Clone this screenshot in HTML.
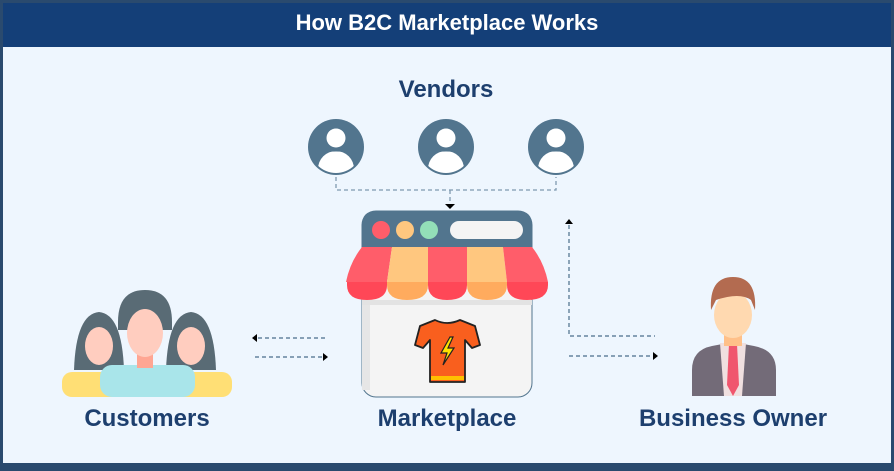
<!DOCTYPE html>
<html><head><style>
html,body{margin:0;padding:0;}
body{width:894px;height:466px;overflow:hidden;background:#2a4a6e;}
</style></head><body>
<svg width="894" height="466" xmlns="http://www.w3.org/2000/svg" font-family="Liberation Sans, sans-serif">
<rect x="0" y="0" width="894" height="466" fill="#2a4a6e"/>
<rect x="3" y="3" width="888" height="44" fill="#143f78"/>
<rect x="3" y="47" width="888" height="416" fill="#eef6fe"/>
<text x="447" y="30" text-anchor="middle" fill="#fff" font-size="22" font-weight="bold">How B2C Marketplace Works</text>
<text x="446" y="97" text-anchor="middle" fill="#1d3f6e" font-size="24" font-weight="bold">Vendors</text>
<text x="147" y="426" text-anchor="middle" fill="#1d3f6e" font-size="24" font-weight="bold">Customers</text>
<text x="447" y="426" text-anchor="middle" fill="#1d3f6e" font-size="24" font-weight="bold">Marketplace</text>
<text x="733" y="426" text-anchor="middle" fill="#1d3f6e" font-size="24" font-weight="bold">Business Owner</text>
<defs>
<clipPath id="c1"><circle cx="0" cy="0" r="26"/></clipPath>
<g id="v"><circle cx="0" cy="0" r="28" fill="#52758e"/><g clip-path="url(#c1)"><circle cx="0" cy="-9" r="9.5" fill="#fff"/><ellipse cx="0" cy="22" rx="18" ry="18" fill="#fff"/><path d="M-20 6 Q0 1 20 6" stroke="#52758e" stroke-width="2" fill="none"/></g></g>
</defs>
<use href="#v" x="336" y="147"/><use href="#v" x="446" y="147"/><use href="#v" x="556" y="147"/>
<g stroke="#7f9ab0" stroke-width="1.3" stroke-dasharray="4,3" fill="none">
<path d="M336 177 V190 H556 V177"/><path d="M450 190 V204"/>
</g>
<path d="M445 204 h10 l-5 5z" fill="#000"/>
<g stroke="#4a6d8a" stroke-width="1.2" stroke-dasharray="4,3" fill="none">
<path d="M325 338 H256"/><path d="M255 357 H323"/>
<path d="M569 225 V336 H655"/><path d="M569 356 H654"/>
</g>
<path d="M252 338 l5 -4 v8z M328 357 l-5 -4 v8z M569 219 l-4 5 h8z M658 356 l-5 -4 v8z" fill="#000"/>
<rect x="362" y="211" width="170" height="186" rx="14" fill="#f4f4f4" stroke="#52758e" stroke-width="1"/>
<rect x="362" y="250" width="8" height="140" fill="#e6e6e6"/>
<path d="M362 248 V225 Q362 211 376 211 H518 Q532 211 532 225 V248z" fill="#52758e"/>
<circle cx="381" cy="230" r="9" fill="#ff5d6a"/><circle cx="405" cy="230" r="9" fill="#ffc77f"/><circle cx="429" cy="230" r="9" fill="#93dfb8"/>
<rect x="450" y="221" width="73" height="18" rx="9" fill="#f4f4f4"/>
<path d="M362 300 H532 V305 H362z" fill="#e3e3e3"/>
<path d="M392 247 L387 282 H346 Q350 262 362 247z" fill="#ff5d6a"/>
<path d="M392 247 H428 V282 H387z" fill="#ffc77f"/>
<path d="M428 247 H467 V282 H428z" fill="#ff5d6a"/>
<path d="M467 247 H503 L507 282 H467z" fill="#ffc77f"/>
<path d="M503 247 H532 Q544 262 548 282 H507z" fill="#ff5d6a"/>
<path d="M347 282 H387 V285 Q387 300 367 300 Q347 300 347 285z" fill="#ff4757"/>
<path d="M387 282 H428 V285 Q428 300 407 300 Q387 300 387 285z" fill="#ffab5e"/>
<path d="M428 282 H467 V285 Q467 300 447 300 Q428 300 428 285z" fill="#ff4757"/>
<path d="M467 282 H507 V285 Q507 300 487 300 Q467 300 467 285z" fill="#ffab5e"/>
<path d="M507 282 H548 V285 Q548 300 527 300 Q507 300 507 285z" fill="#ff4757"/>
<path d="M435 320 L420 326 L415 345 L423 348 L430 340 L430 382 L465 382 L465 340 L472 348 L480 345 L475 326 L460 320 Q447 326 435 320z" fill="#f95f1e" stroke="#222" stroke-width="1.8" stroke-linejoin="round"/>
<rect x="431" y="376" width="33" height="4" fill="#ffc000"/>
<path d="M450 337 L441 353 L447 353 L443 365 L454 348 L448 348 L453 337z" fill="#ffe100" stroke="#222" stroke-width="1.2"/>
<g>
<path d="M74 370 Q76 314 99 312 Q122 314 124 370z" fill="#596b75"/>
<path d="M166 370 Q168 314 191 312 Q214 314 216 370z" fill="#596b75"/>
<rect x="62" y="372" width="60" height="25" rx="10" fill="#ffdf75"/>
<rect x="172" y="372" width="60" height="25" rx="10" fill="#ffdf75"/>
<ellipse cx="99" cy="346" rx="14" ry="19" fill="#ffcdbf"/>
<ellipse cx="191" cy="346" rx="14" ry="19" fill="#ffcdbf"/>
<path d="M118 322 Q118 290 145 290 Q172 290 172 322 V330 H118z" fill="#596b75"/>
<rect x="100" y="365" width="95" height="32" rx="12" fill="#a9e5ea"/>
<rect x="137" y="350" width="16" height="18" fill="#ffa693"/>
<ellipse cx="145" cy="333" rx="18" ry="24" fill="#ffcdbf"/>
</g>
<g>
<path d="M692 396 V370 Q692 350 712 346 L733 342 L754 346 Q776 350 776 370 V396z" fill="#736b78"/>
<path d="M720 343 H746 L742 396 H724z" fill="#f0e0e0"/>
<path d="M729 344 H737 L739 385 L733 396 L727 385z" fill="#f0566e"/>
<rect x="724" y="332" width="18" height="14" fill="#ffc089"/>
<ellipse cx="733" cy="315" rx="19" ry="23" fill="#ffd9b0"/>
<path d="M711 310 Q709 277 733 277 Q757 277 755 310 L751 300 Q740 292 716 300z" fill="#b36b50"/>
</g>
</svg>
</body></html>
